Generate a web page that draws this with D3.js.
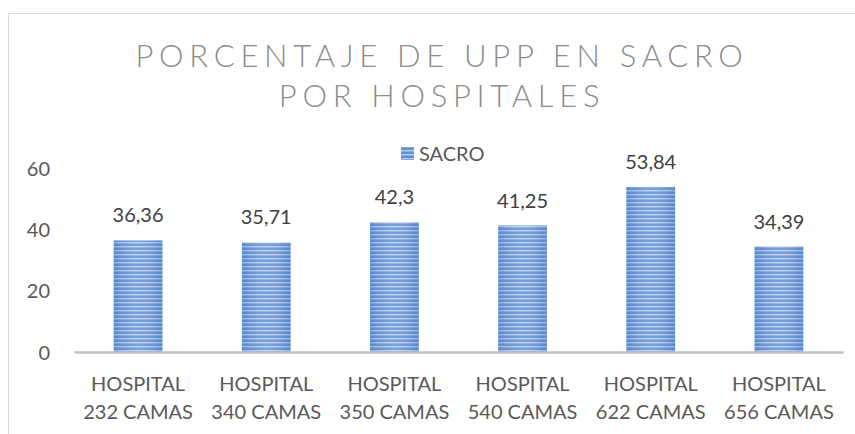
<!DOCTYPE html>
<html><head><meta charset="utf-8">
<script src="https://cdn.jsdelivr.net/npm/d3@7"></script>
<style>body{margin:0;background:#fff}svg{display:block}</style>
</head><body><svg id="c" width="855" height="434"></svg>
<script>
const categories = [["HOSPITAL","232 CAMAS"],["HOSPITAL","340 CAMAS"],["HOSPITAL","350 CAMAS"],["HOSPITAL","540 CAMAS"],["HOSPITAL","622 CAMAS"],["HOSPITAL","656 CAMAS"]];
const values = [36.36, 35.71, 42.3, 41.25, 53.84, 34.39];
const valueLabels = ["36,36","35,71","42,3","41,25","53,84","34,39"];
const yTicks = [0, 20, 40, 60];
const seriesName = "SACRO";
const titleLines = ["PORCENTAJE DE UPP EN SACRO", "POR HOSPITALES"];

const svg = d3.select("#c");
const font = "Lato, 'Open Sans', sans-serif";

// border
svg.append("path").attr("d","M8.5,434 V13.5 H855").attr("fill","none").attr("stroke","#d9d9d9").attr("stroke-width",1);

const defs = svg.append("defs");
const pat = defs.append("pattern").attr("id","stripes").attr("patternUnits","userSpaceOnUse").attr("width",10).attr("height",4);
pat.append("rect").attr("width",10).attr("height",4).attr("fill","#6190d3");
pat.append("rect").attr("y",2).attr("width",10).attr("height",1.4).attr("fill","#bad0f0");
const grad = defs.append("linearGradient").attr("id","shade").attr("x1","0").attr("x2","1");
grad.append("stop").attr("offset","0").attr("stop-color","#3c6db5").attr("stop-opacity",0.3);
grad.append("stop").attr("offset","0.5").attr("stop-color","#ffffff").attr("stop-opacity",0.15);
grad.append("stop").attr("offset","1").attr("stop-color","#3c6db5").attr("stop-opacity",0.3);

const x = d3.scaleBand().domain(d3.range(categories.length)).range([74, 843]).paddingInner(0.62).paddingOuter(0.31);
const y = d3.scaleLinear().domain([0, 60]).range([352, 168]);

// title
const title = svg.append("text").attr("text-anchor","middle").attr("fill","#8c8c8c")
  .attr("font-family",font).attr("font-weight",300).attr("font-size",31).attr("letter-spacing",5.7);
titleLines.forEach((t,i)=>title.append("tspan").attr("x",442).attr("y",67+i*40).text(t));

// y axis labels
const yAxis = d3.axisLeft(y).tickValues(yTicks).tickSize(0).tickPadding(0);
const gy = svg.append("g").attr("transform","translate(50,0)").call(yAxis);
gy.select(".domain").remove();
gy.selectAll("text").attr("font-family",font).attr("font-size",20).attr("fill","#595959").attr("dy","0.35em");

// bars
const bars = svg.append("g");
bars.selectAll("rect.b").data(values).join("rect").attr("class","b")
  .attr("x",(d,i)=>x(i)).attr("width",x.bandwidth()).attr("y",d=>y(d)).attr("height",d=>y(0)-y(d))
  .attr("fill","url(#stripes)");
bars.selectAll("rect.s").data(values).join("rect").attr("class","s")
  .attr("x",(d,i)=>x(i)).attr("width",x.bandwidth()).attr("y",d=>y(d)).attr("height",d=>y(0)-y(d))
  .attr("fill","url(#shade)");

// value labels
svg.append("g").selectAll("text").data(values).join("text")
  .attr("x",(d,i)=>x(i)+x.bandwidth()/2).attr("y",d=>y(d)-18)
  .attr("text-anchor","middle").attr("font-family",font).attr("font-size",20).attr("fill","#404040")
  .text((d,i)=>valueLabels[i]);

// x axis
const xAxis = d3.axisBottom(x).tickSize(0).tickFormat("");
const gx = svg.append("g").attr("transform","translate(0,352)").call(xAxis);
gx.select(".domain").attr("stroke","#bfbfbf").attr("stroke-width",2.5);
gx.selectAll(".tick").each(function(d){
  const t = d3.select(this).append("text").attr("fill","#595959").attr("font-family",font).attr("font-size",20).attr("text-anchor","middle");
  categories[d].forEach((s,k)=>t.append("tspan").attr("x",0).attr("y",39+k*28).text(s));
});

// legend
const lg = svg.append("g");
lg.append("rect").attr("x",401).attr("y",147).attr("width",13).attr("height",13).attr("fill","url(#stripes)");
lg.append("text").attr("x",419).attr("y",161).attr("font-family",font).attr("font-size",20).attr("fill","#595959").text(seriesName);
</script></body></html>
